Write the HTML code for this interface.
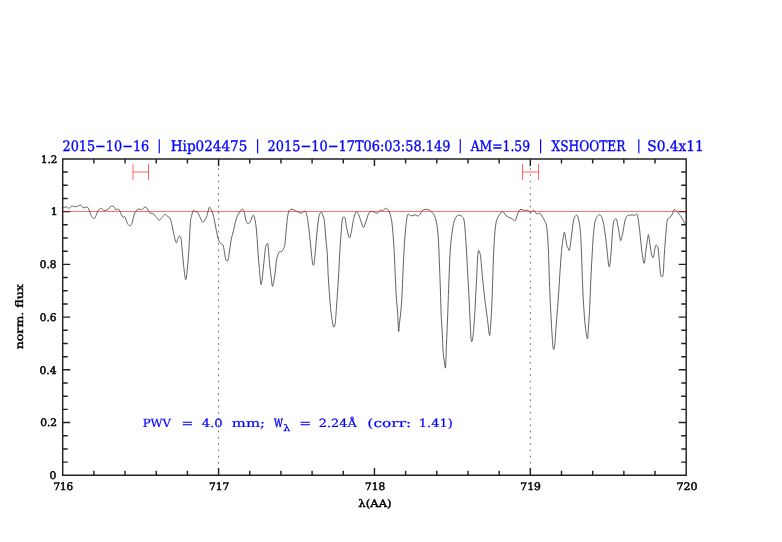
<!DOCTYPE html><html><head><meta charset="utf-8"><title>plot</title><style>html,body{margin:0;padding:0;background:#fff;}svg{display:block;will-change:transform;text-rendering:geometricPrecision;}</style></head><body>
<svg width="782" height="542" viewBox="0 0 782 542">
<rect width="782" height="542" fill="#fff"/>
<g opacity="0.999">
<line x1="218.57" y1="161.95" x2="218.57" y2="475.30" stroke="#6a6a6a" stroke-width="1" stroke-dasharray="1.7 4.55"/>
<line x1="530.33" y1="161.95" x2="530.33" y2="475.30" stroke="#6a6a6a" stroke-width="1" stroke-dasharray="1.7 4.55"/>
<path d="M62.90,207.80 C63.10,207.75 63.48,207.67 64.10,207.50 C64.72,207.33 65.82,206.65 66.60,206.80 C67.38,206.95 68.05,208.47 68.80,208.40 C69.55,208.33 70.35,206.77 71.10,206.40 C71.85,206.03 72.50,206.13 73.30,206.20 C74.10,206.27 75.17,206.80 75.90,206.80 C76.63,206.80 77.03,206.47 77.70,206.20 C78.37,205.93 79.28,205.28 79.90,205.20 C80.52,205.12 80.85,205.25 81.40,205.70 C81.95,206.15 82.58,207.62 83.20,207.90 C83.82,208.18 84.35,207.48 85.10,207.40 C85.85,207.32 86.97,206.77 87.70,207.40 C88.43,208.03 88.83,209.70 89.50,211.20 C90.17,212.70 90.90,215.18 91.70,216.40 C92.50,217.62 93.57,218.68 94.30,218.50 C95.03,218.32 95.43,216.63 96.10,215.30 C96.77,213.97 97.50,211.67 98.30,210.50 C99.10,209.33 99.92,208.30 100.90,208.30 C101.88,208.30 102.97,210.35 104.20,210.50 C105.43,210.65 107.25,209.88 108.30,209.20 C109.35,208.52 109.70,206.90 110.50,206.40 C111.30,205.90 112.42,206.02 113.10,206.20 C113.78,206.38 114.10,206.85 114.60,207.50 C115.10,208.15 115.55,209.87 116.10,210.10 C116.65,210.33 117.30,208.77 117.90,208.90 C118.50,209.03 118.90,209.53 119.70,210.90 C120.50,212.27 121.83,216.12 122.70,217.10 C123.57,218.08 124.17,215.87 124.90,216.80 C125.63,217.73 126.30,221.20 127.10,222.70 C127.90,224.20 128.90,225.68 129.70,225.80 C130.50,225.92 131.22,225.10 131.90,223.40 C132.58,221.70 133.12,217.68 133.80,215.60 C134.48,213.52 135.15,212.02 136.00,210.90 C136.85,209.78 137.98,209.10 138.90,208.90 C139.82,208.70 140.52,209.98 141.50,209.70 C142.48,209.42 143.93,207.50 144.80,207.20 C145.67,206.90 145.97,207.05 146.70,207.90 C147.43,208.75 148.47,211.40 149.20,212.30 C149.93,213.20 150.42,213.08 151.10,213.30 C151.78,213.52 152.52,213.05 153.30,213.60 C154.08,214.15 154.83,215.50 155.80,216.60 C156.77,217.70 158.07,220.07 159.10,220.20 C160.13,220.33 161.02,218.38 162.00,217.40 C162.98,216.42 164.05,214.45 165.00,214.30 C165.95,214.15 166.83,215.78 167.70,216.50 C168.57,217.22 169.47,217.07 170.20,218.60 C170.93,220.13 171.48,223.05 172.10,225.70 C172.72,228.35 173.23,231.67 173.90,234.50 C174.57,237.33 175.48,241.83 176.10,242.70 C176.72,243.57 177.12,240.77 177.60,239.70 C178.08,238.63 178.47,236.62 179.00,236.30 C179.53,235.98 180.30,235.88 180.80,237.80 C181.30,239.72 181.55,243.42 182.00,247.80 C182.45,252.18 182.88,258.80 183.50,264.10 C184.12,269.40 185.03,279.12 185.70,279.60 C186.37,280.08 186.97,272.05 187.50,267.00 C188.03,261.95 188.42,256.68 188.90,249.30 C189.38,241.92 189.95,228.23 190.40,222.70 C190.85,217.17 191.15,218.12 191.60,216.10 C192.05,214.08 192.48,211.35 193.10,210.60 C193.72,209.85 194.52,211.32 195.30,211.60 C196.08,211.88 196.98,211.30 197.80,212.30 C198.62,213.30 199.42,215.97 200.20,217.60 C200.98,219.23 201.75,221.67 202.50,222.10 C203.25,222.53 203.97,221.27 204.70,220.20 C205.43,219.13 206.15,217.82 206.90,215.70 C207.65,213.58 208.50,208.53 209.20,207.50 C209.90,206.47 210.45,208.35 211.10,209.50 C211.75,210.65 212.45,212.08 213.10,214.40 C213.75,216.72 214.35,220.17 215.00,223.40 C215.65,226.63 216.35,230.88 217.00,233.80 C217.65,236.72 218.27,239.30 218.90,240.90 C219.53,242.50 220.08,242.62 220.80,243.40 C221.52,244.18 222.55,243.87 223.20,245.60 C223.85,247.33 224.23,251.37 224.70,253.80 C225.17,256.23 225.47,259.13 226.00,260.20 C226.53,261.27 227.37,261.38 227.90,260.20 C228.43,259.02 228.65,256.53 229.20,253.10 C229.75,249.67 230.43,243.58 231.20,239.60 C231.97,235.62 232.95,232.65 233.80,229.20 C234.65,225.75 235.45,221.58 236.30,218.90 C237.15,216.22 237.92,214.72 238.90,213.10 C239.88,211.48 241.33,209.45 242.20,209.20 C243.07,208.95 243.48,209.82 244.10,211.60 C244.72,213.38 245.30,217.90 245.90,219.90 C246.50,221.90 247.00,223.28 247.70,223.60 C248.40,223.92 249.17,223.18 250.10,221.80 C251.03,220.42 252.37,215.00 253.30,215.30 C254.23,215.60 255.05,219.55 255.70,223.60 C256.35,227.65 256.80,234.53 257.20,239.60 C257.60,244.67 257.75,249.22 258.10,254.00 C258.45,258.78 258.85,263.32 259.30,268.30 C259.75,273.28 260.35,281.90 260.80,283.90 C261.25,285.90 261.60,282.70 262.00,280.30 C262.40,277.90 262.80,273.30 263.20,269.50 C263.60,265.70 264.00,261.18 264.40,257.50 C264.80,253.82 265.05,249.75 265.60,247.40 C266.15,245.05 267.20,242.70 267.70,243.40 C268.20,244.10 268.25,247.85 268.60,251.60 C268.95,255.35 269.35,261.52 269.80,265.90 C270.25,270.28 270.87,274.47 271.30,277.90 C271.73,281.33 271.95,286.10 272.40,286.50 C272.85,286.90 273.50,282.93 274.00,280.30 C274.50,277.67 274.97,274.20 275.40,270.70 C275.83,267.20 276.05,262.28 276.60,259.30 C277.15,256.32 278.15,254.13 278.70,252.80 C279.25,251.47 279.40,251.50 279.90,251.30 C280.40,251.10 281.10,252.05 281.70,251.60 C282.30,251.15 283.00,249.60 283.50,248.60 C284.00,247.60 284.37,247.37 284.70,245.60 C285.03,243.83 285.20,241.10 285.50,238.00 C285.80,234.90 286.15,230.53 286.50,227.00 C286.85,223.47 287.20,219.47 287.60,216.80 C288.00,214.13 288.37,212.25 288.90,211.00 C289.43,209.75 290.05,209.52 290.80,209.30 C291.55,209.08 292.53,209.42 293.40,209.70 C294.27,209.98 295.15,210.57 296.00,211.00 C296.85,211.43 297.65,211.93 298.50,212.30 C299.35,212.67 300.33,213.20 301.10,213.20 C301.87,213.20 302.45,212.67 303.10,212.30 C303.75,211.93 304.40,210.58 305.00,211.00 C305.60,211.42 306.17,212.77 306.70,214.80 C307.23,216.83 307.68,219.43 308.20,223.20 C308.72,226.97 309.25,232.23 309.80,237.40 C310.35,242.57 311.02,249.78 311.50,254.20 C311.98,258.62 312.28,262.28 312.70,263.90 C313.12,265.52 313.57,265.95 314.00,263.90 C314.43,261.85 314.87,256.23 315.30,251.60 C315.73,246.97 316.10,241.27 316.60,236.10 C317.10,230.93 317.80,224.25 318.30,220.60 C318.80,216.95 319.08,215.58 319.60,214.20 C320.12,212.82 320.82,211.98 321.40,212.30 C321.98,212.62 322.60,214.60 323.10,216.10 C323.60,217.60 323.98,217.97 324.40,221.30 C324.82,224.63 325.12,230.62 325.60,236.10 C326.08,241.58 326.88,247.92 327.30,254.20 C327.72,260.48 327.73,267.07 328.10,273.80 C328.47,280.53 329.03,288.37 329.50,294.60 C329.97,300.83 330.27,305.93 330.90,311.20 C331.53,316.47 332.60,324.12 333.30,326.20 C334.00,328.28 334.57,326.88 335.10,323.70 C335.63,320.52 336.05,313.10 336.50,307.10 C336.95,301.10 337.42,293.70 337.80,287.70 C338.18,281.70 338.47,277.12 338.80,271.10 C339.13,265.08 339.42,257.87 339.80,251.60 C340.18,245.33 340.68,238.87 341.10,233.50 C341.52,228.13 341.83,222.15 342.30,219.40 C342.77,216.65 343.42,217.12 343.90,217.00 C344.38,216.88 344.73,216.92 345.20,218.70 C345.67,220.48 346.02,224.53 346.70,227.70 C347.38,230.87 348.52,237.05 349.30,237.70 C350.08,238.35 350.70,234.65 351.40,231.60 C352.10,228.55 352.72,222.68 353.50,219.40 C354.28,216.12 355.23,212.72 356.10,211.90 C356.97,211.08 357.90,212.93 358.70,214.50 C359.50,216.07 360.10,219.15 360.90,221.30 C361.70,223.45 362.68,227.30 363.50,227.40 C364.32,227.50 364.98,224.10 365.80,221.90 C366.62,219.70 367.53,215.95 368.40,214.20 C369.27,212.45 370.10,211.78 371.00,211.40 C371.90,211.02 372.73,211.60 373.80,211.90 C374.87,212.20 376.37,213.47 377.40,213.20 C378.43,212.93 379.13,210.73 380.00,210.30 C380.87,209.87 381.63,210.92 382.60,210.60 C383.57,210.28 384.95,208.62 385.80,208.40 C386.65,208.18 387.05,208.55 387.70,209.30 C388.35,210.05 389.05,211.02 389.70,212.90 C390.35,214.78 391.07,217.37 391.60,220.60 C392.13,223.83 392.47,227.13 392.90,232.30 C393.33,237.47 393.78,243.85 394.20,251.60 C394.62,259.35 395.05,271.27 395.40,278.80 C395.75,286.33 395.92,291.03 396.30,296.80 C396.68,302.57 397.32,307.63 397.70,313.40 C398.08,319.17 398.30,329.78 398.60,331.40 C398.90,333.02 399.12,326.55 399.50,323.10 C399.88,319.65 400.50,315.08 400.90,310.70 C401.30,306.32 401.60,302.12 401.90,296.80 C402.20,291.48 402.33,286.77 402.70,278.80 C403.07,270.83 403.65,256.97 404.10,249.00 C404.55,241.03 404.97,235.93 405.40,231.00 C405.83,226.07 406.27,222.20 406.70,219.40 C407.13,216.60 407.40,214.82 408.00,214.20 C408.60,213.58 409.48,215.48 410.30,215.70 C411.12,215.92 412.08,215.65 412.90,215.50 C413.72,215.35 414.38,214.70 415.20,214.80 C416.02,214.90 417.00,216.15 417.80,216.10 C418.60,216.05 419.27,215.42 420.00,214.50 C420.73,213.58 421.33,211.45 422.20,210.60 C423.07,209.75 424.17,209.55 425.20,209.40 C426.23,209.25 427.40,209.33 428.40,209.70 C429.40,210.07 430.30,210.80 431.20,211.60 C432.10,212.40 432.98,213.00 433.80,214.50 C434.62,216.00 435.45,217.85 436.10,220.60 C436.75,223.35 437.27,226.90 437.70,231.00 C438.13,235.10 438.38,239.03 438.70,245.20 C439.02,251.37 439.32,260.53 439.60,268.00 C439.88,275.47 440.13,282.03 440.40,290.00 C440.67,297.97 440.87,308.27 441.20,315.80 C441.53,323.33 442.10,329.43 442.40,335.20 C442.70,340.97 442.70,346.18 443.00,350.40 C443.30,354.62 443.80,357.55 444.20,360.50 C444.60,363.45 445.10,368.43 445.40,368.10 C445.70,367.77 445.83,362.30 446.00,358.50 C446.17,354.70 446.23,349.68 446.40,345.30 C446.57,340.92 446.80,336.75 447.00,332.20 C447.20,327.65 447.37,324.12 447.60,318.00 C447.83,311.88 448.10,303.83 448.40,295.50 C448.70,287.17 449.08,275.75 449.40,268.00 C449.72,260.25 449.82,255.17 450.30,249.00 C450.78,242.83 451.65,235.62 452.30,231.00 C452.95,226.38 453.45,223.78 454.20,221.30 C454.95,218.82 455.92,217.12 456.80,216.10 C457.68,215.08 458.62,215.13 459.50,215.20 C460.38,215.27 461.35,215.70 462.10,216.50 C462.85,217.30 463.50,217.80 464.00,220.00 C464.50,222.20 464.77,225.93 465.10,229.70 C465.43,233.47 465.70,237.87 466.00,242.60 C466.30,247.33 466.60,252.58 466.90,258.10 C467.20,263.62 467.43,268.85 467.80,275.70 C468.17,282.55 468.70,291.37 469.10,299.20 C469.50,307.03 469.83,315.77 470.20,322.70 C470.57,329.63 470.85,338.43 471.30,340.80 C471.75,343.17 472.38,340.43 472.90,336.90 C473.42,333.37 473.93,326.40 474.40,319.60 C474.87,312.80 475.28,303.95 475.70,296.10 C476.12,288.25 476.58,278.83 476.90,272.50 C477.22,266.17 477.33,261.75 477.60,258.10 C477.87,254.45 478.13,251.47 478.50,250.60 C478.87,249.73 479.42,251.65 479.80,252.90 C480.18,254.15 480.38,254.30 480.80,258.10 C481.22,261.90 481.63,268.85 482.30,275.70 C482.97,282.55 483.93,291.88 484.80,299.20 C485.67,306.52 486.72,313.58 487.50,319.60 C488.28,325.62 488.98,334.25 489.50,335.30 C490.02,336.35 490.23,330.60 490.60,325.90 C490.97,321.20 491.37,314.17 491.70,307.10 C492.03,300.03 492.33,291.18 492.60,283.50 C492.87,275.82 493.00,268.47 493.30,261.00 C493.60,253.53 494.02,244.57 494.40,238.70 C494.78,232.83 495.18,229.02 495.60,225.80 C496.02,222.58 496.25,221.23 496.90,219.40 C497.55,217.57 498.63,216.10 499.50,214.80 C500.37,213.50 501.35,211.92 502.10,211.60 C502.85,211.28 503.25,212.15 504.00,212.90 C504.75,213.65 505.52,215.23 506.60,216.10 C507.68,216.97 509.50,217.60 510.50,218.10 C511.50,218.60 511.82,218.68 512.60,219.10 C513.38,219.52 514.45,221.20 515.20,220.60 C515.95,220.00 516.47,217.10 517.10,215.50 C517.73,213.90 518.35,212.03 519.00,211.00 C519.65,209.97 520.25,209.42 521.00,209.30 C521.75,209.18 522.53,210.17 523.50,210.30 C524.47,210.43 525.93,209.98 526.80,210.10 C527.67,210.22 528.10,210.63 528.70,211.00 C529.30,211.37 529.82,212.30 530.40,212.30 C530.98,212.30 531.62,211.33 532.20,211.00 C532.78,210.67 533.30,209.98 533.90,210.30 C534.50,210.62 535.27,212.30 535.80,212.90 C536.33,213.50 536.45,213.85 537.10,213.90 C537.75,213.95 538.95,212.93 539.70,213.20 C540.45,213.47 540.85,214.37 541.60,215.50 C542.35,216.63 543.45,218.60 544.20,220.00 C544.95,221.40 545.57,221.65 546.10,223.90 C546.63,226.15 547.02,229.15 547.40,233.50 C547.78,237.85 548.10,243.08 548.40,250.00 C548.70,256.92 548.90,266.62 549.20,275.00 C549.50,283.38 549.85,292.47 550.20,300.30 C550.55,308.13 550.95,315.72 551.30,322.00 C551.65,328.28 551.97,333.50 552.30,338.00 C552.63,342.50 552.90,347.78 553.30,349.00 C553.70,350.22 554.22,349.30 554.70,345.30 C555.18,341.30 555.63,332.37 556.20,325.00 C556.77,317.63 557.48,309.70 558.10,301.10 C558.72,292.50 559.38,281.08 559.90,273.40 C560.42,265.72 560.80,259.92 561.20,255.00 C561.60,250.08 561.92,247.05 562.30,243.90 C562.68,240.75 563.13,238.03 563.50,236.10 C563.87,234.17 564.13,231.87 564.50,232.30 C564.87,232.73 565.32,236.55 565.70,238.70 C566.08,240.85 566.38,243.57 566.80,245.20 C567.22,246.83 567.78,247.65 568.20,248.50 C568.62,249.35 568.92,251.07 569.30,250.30 C569.68,249.53 570.03,247.12 570.50,243.90 C570.97,240.68 571.55,235.08 572.10,231.00 C572.65,226.92 573.08,222.03 573.80,219.40 C574.52,216.77 575.62,215.32 576.40,215.20 C577.18,215.08 577.87,216.28 578.50,218.70 C579.13,221.12 579.73,224.82 580.20,229.70 C580.67,234.58 580.93,239.63 581.30,248.00 C581.67,256.37 582.02,270.43 582.40,279.90 C582.78,289.37 583.12,297.05 583.60,304.80 C584.08,312.55 584.67,320.73 585.30,326.40 C585.93,332.07 586.90,338.25 587.40,338.80 C587.90,339.35 587.93,334.53 588.30,329.70 C588.67,324.87 589.23,316.92 589.60,309.80 C589.97,302.68 590.20,293.97 590.50,287.00 C590.80,280.03 591.12,273.50 591.40,268.00 C591.68,262.50 591.92,258.88 592.20,254.00 C592.48,249.12 592.68,243.83 593.10,238.70 C593.52,233.57 594.12,226.75 594.70,223.20 C595.28,219.65 595.78,218.80 596.60,217.40 C597.42,216.00 598.73,214.80 599.60,214.80 C600.47,214.80 601.12,215.78 601.80,217.40 C602.48,219.02 603.07,221.17 603.70,224.50 C604.33,227.83 605.00,232.67 605.60,237.40 C606.20,242.13 606.75,248.05 607.30,252.90 C607.85,257.75 608.42,265.00 608.90,266.50 C609.38,268.00 609.77,265.23 610.20,261.90 C610.63,258.57 611.08,251.87 611.50,246.50 C611.92,241.13 612.28,234.02 612.70,229.70 C613.12,225.38 613.38,222.37 614.00,220.60 C614.62,218.83 615.75,218.23 616.40,219.10 C617.05,219.97 617.38,223.18 617.90,225.80 C618.42,228.42 619.07,232.35 619.50,234.80 C619.93,237.25 620.17,239.88 620.50,240.50 C620.83,241.12 621.07,240.02 621.50,238.50 C621.93,236.98 622.57,234.15 623.10,231.40 C623.63,228.65 624.12,224.48 624.70,222.00 C625.28,219.52 625.82,217.63 626.60,216.50 C627.38,215.37 628.40,215.47 629.40,215.20 C630.40,214.93 631.68,214.87 632.60,214.90 C633.52,214.93 634.17,215.53 634.90,215.40 C635.63,215.27 636.47,213.53 637.00,214.10 C637.53,214.67 637.67,216.18 638.10,218.80 C638.53,221.42 639.08,225.35 639.60,229.80 C640.12,234.25 640.67,240.78 641.20,245.50 C641.73,250.22 642.28,255.17 642.80,258.10 C643.32,261.03 643.78,264.42 644.30,263.10 C644.82,261.78 645.37,254.18 645.90,250.20 C646.43,246.22 647.05,241.75 647.50,239.20 C647.95,236.65 648.17,233.85 648.60,234.90 C649.03,235.95 649.58,242.17 650.10,245.50 C650.62,248.83 651.15,252.93 651.70,254.90 C652.25,256.87 652.87,258.33 653.40,257.30 C653.93,256.27 654.45,250.72 654.90,248.70 C655.35,246.68 655.58,245.33 656.10,245.20 C656.62,245.07 657.48,245.48 658.00,247.90 C658.52,250.32 658.78,255.38 659.20,259.70 C659.62,264.02 660.10,270.98 660.50,273.80 C660.90,276.62 661.15,276.60 661.60,276.60 C662.05,276.60 662.75,277.42 663.20,273.80 C663.65,270.18 663.87,261.45 664.30,254.90 C664.73,248.35 665.28,240.30 665.80,234.50 C666.32,228.70 666.53,223.10 667.40,220.10 C668.27,217.10 670.13,217.63 671.00,216.50 C671.87,215.37 672.00,214.48 672.60,213.30 C673.20,212.12 673.82,209.58 674.60,209.40 C675.38,209.22 676.33,211.15 677.30,212.20 C678.27,213.25 679.48,214.47 680.40,215.70 C681.32,216.93 682.08,218.30 682.80,219.60 C683.52,220.90 684.18,222.53 684.70,223.50 C685.22,224.47 685.70,225.08 685.90,225.40" fill="none" stroke="#3a3a3a" stroke-width="0.8" stroke-linejoin="round"/>
<g stroke="#ff0000" stroke-opacity="0.6" stroke-width="1" fill="none"><line x1="133.0" y1="164" x2="133.0" y2="180"/><line x1="148.5" y1="164" x2="148.5" y2="180"/><line x1="133.0" y1="172" x2="148.5" y2="172"/></g>
<g stroke="#ff0000" stroke-opacity="0.6" stroke-width="1" fill="none"><line x1="522.5" y1="164" x2="522.5" y2="180"/><line x1="538.5" y1="164" x2="538.5" y2="180"/><line x1="522.5" y1="172" x2="538.5" y2="172"/></g>
<path d="M62.70,158.90 H686.20 V475.30 H62.70 Z M62.70,475.30 v-7.20 M62.70,158.90 v7.20 M93.88,475.30 v-4.60 M93.88,158.90 v4.60 M125.05,475.30 v-4.60 M125.05,158.90 v4.60 M156.23,475.30 v-4.60 M156.23,158.90 v4.60 M187.40,475.30 v-4.60 M187.40,158.90 v4.60 M218.57,475.30 v-7.20 M218.57,158.90 v7.20 M249.75,475.30 v-4.60 M249.75,158.90 v4.60 M280.92,475.30 v-4.60 M280.92,158.90 v4.60 M312.10,475.30 v-4.60 M312.10,158.90 v4.60 M343.27,475.30 v-4.60 M343.27,158.90 v4.60 M374.45,475.30 v-7.20 M374.45,158.90 v7.20 M405.63,475.30 v-4.60 M405.63,158.90 v4.60 M436.80,475.30 v-4.60 M436.80,158.90 v4.60 M467.98,475.30 v-4.60 M467.98,158.90 v4.60 M499.15,475.30 v-4.60 M499.15,158.90 v4.60 M530.33,475.30 v-7.20 M530.33,158.90 v7.20 M561.50,475.30 v-4.60 M561.50,158.90 v4.60 M592.67,475.30 v-4.60 M592.67,158.90 v4.60 M623.85,475.30 v-4.60 M623.85,158.90 v4.60 M655.02,475.30 v-4.60 M655.02,158.90 v4.60 M686.20,475.30 v-7.20 M686.20,158.90 v7.20 M62.70,475.30 h7.50 M686.20,475.30 h-7.50 M62.70,462.12 h5.00 M686.20,462.12 h-5.00 M62.70,448.93 h5.00 M686.20,448.93 h-5.00 M62.70,435.75 h5.00 M686.20,435.75 h-5.00 M62.70,422.57 h7.50 M686.20,422.57 h-7.50 M62.70,409.38 h5.00 M686.20,409.38 h-5.00 M62.70,396.20 h5.00 M686.20,396.20 h-5.00 M62.70,383.02 h5.00 M686.20,383.02 h-5.00 M62.70,369.83 h7.50 M686.20,369.83 h-7.50 M62.70,356.65 h5.00 M686.20,356.65 h-5.00 M62.70,343.47 h5.00 M686.20,343.47 h-5.00 M62.70,330.28 h5.00 M686.20,330.28 h-5.00 M62.70,317.10 h7.50 M686.20,317.10 h-7.50 M62.70,303.92 h5.00 M686.20,303.92 h-5.00 M62.70,290.73 h5.00 M686.20,290.73 h-5.00 M62.70,277.55 h5.00 M686.20,277.55 h-5.00 M62.70,264.37 h7.50 M686.20,264.37 h-7.50 M62.70,251.18 h5.00 M686.20,251.18 h-5.00 M62.70,238.00 h5.00 M686.20,238.00 h-5.00 M62.70,224.82 h5.00 M686.20,224.82 h-5.00 M62.70,211.63 h7.50 M686.20,211.63 h-7.50 M62.70,198.45 h5.00 M686.20,198.45 h-5.00 M62.70,185.27 h5.00 M686.20,185.27 h-5.00 M62.70,172.08 h5.00 M686.20,172.08 h-5.00 M62.70,158.90 h7.50 M686.20,158.90 h-7.50" fill="none" stroke="#222" stroke-width="1.45"/>
<text x="62.50" y="150.70" font-family='"DejaVu Serif", "Liberation Serif", serif' font-size="14.60" fill="#0000ff" stroke="#0000ff" stroke-width="0.35" textLength="86.73" lengthAdjust="spacingAndGlyphs" style="font-kerning:none">2015−10−16</text>
<text x="157.05" y="149.85" font-family='"DejaVu Serif", "Liberation Serif", serif' font-size="14.00" fill="#0000ff" stroke="#0000ff" stroke-width="0.12" textLength="4.60" lengthAdjust="spacingAndGlyphs" style="font-kerning:none">|</text>
<text x="170.73" y="150.70" font-family='"DejaVu Serif", "Liberation Serif", serif' font-size="14.60" fill="#0000ff" stroke="#0000ff" stroke-width="0.35" textLength="76.65" lengthAdjust="spacingAndGlyphs" style="font-kerning:none">Hip024475</text>
<text x="255.35" y="149.85" font-family='"DejaVu Serif", "Liberation Serif", serif' font-size="14.00" fill="#0000ff" stroke="#0000ff" stroke-width="0.12" textLength="4.60" lengthAdjust="spacingAndGlyphs" style="font-kerning:none">|</text>
<text x="267.50" y="150.70" font-family='"DejaVu Serif", "Liberation Serif", serif' font-size="14.60" fill="#0000ff" stroke="#0000ff" stroke-width="0.35" textLength="182.90" lengthAdjust="spacingAndGlyphs" style="font-kerning:none">2015−10−17T06:03:58.149</text>
<text x="457.95" y="149.85" font-family='"DejaVu Serif", "Liberation Serif", serif' font-size="14.00" fill="#0000ff" stroke="#0000ff" stroke-width="0.12" textLength="4.60" lengthAdjust="spacingAndGlyphs" style="font-kerning:none">|</text>
<text x="470.65" y="150.70" font-family='"DejaVu Serif", "Liberation Serif", serif' font-size="14.60" fill="#0000ff" stroke="#0000ff" stroke-width="0.35" textLength="59.41" lengthAdjust="spacingAndGlyphs" style="font-kerning:none">AM=1.59</text>
<text x="538.35" y="149.85" font-family='"DejaVu Serif", "Liberation Serif", serif' font-size="14.00" fill="#0000ff" stroke="#0000ff" stroke-width="0.12" textLength="4.60" lengthAdjust="spacingAndGlyphs" style="font-kerning:none">|</text>
<text x="551.60" y="150.70" font-family='"DejaVu Serif", "Liberation Serif", serif' font-size="14.60" fill="#0000ff" stroke="#0000ff" stroke-width="0.35" textLength="73.83" lengthAdjust="spacingAndGlyphs" style="font-kerning:none">XSHOOTER</text>
<text x="636.40" y="149.85" font-family='"DejaVu Serif", "Liberation Serif", serif' font-size="14.00" fill="#0000ff" stroke="#0000ff" stroke-width="0.12" textLength="4.60" lengthAdjust="spacingAndGlyphs" style="font-kerning:none">|</text>
<text x="647.32" y="150.70" font-family='"DejaVu Serif", "Liberation Serif", serif' font-size="14.60" fill="#0000ff" stroke="#0000ff" stroke-width="0.35" textLength="56.45" lengthAdjust="spacingAndGlyphs" style="font-kerning:none">S0.4x11</text>
<text x="49.54" y="479.10" font-family='"DejaVu Serif", "Liberation Serif", serif' font-size="10.40" fill="#000" stroke="#000" stroke-width="0.50" textLength="6.82" lengthAdjust="spacingAndGlyphs" style="font-kerning:none">0</text>
<text x="40.15" y="426.37" font-family='"DejaVu Serif", "Liberation Serif", serif' font-size="10.40" fill="#000" stroke="#000" stroke-width="0.50" textLength="16.95" lengthAdjust="spacingAndGlyphs" style="font-kerning:none">0.2</text>
<text x="39.54" y="373.63" font-family='"DejaVu Serif", "Liberation Serif", serif' font-size="10.40" fill="#000" stroke="#000" stroke-width="0.50" textLength="17.05" lengthAdjust="spacingAndGlyphs" style="font-kerning:none">0.4</text>
<text x="39.86" y="320.90" font-family='"DejaVu Serif", "Liberation Serif", serif' font-size="10.40" fill="#000" stroke="#000" stroke-width="0.50" textLength="16.65" lengthAdjust="spacingAndGlyphs" style="font-kerning:none">0.6</text>
<text x="39.86" y="268.17" font-family='"DejaVu Serif", "Liberation Serif", serif' font-size="10.40" fill="#000" stroke="#000" stroke-width="0.50" textLength="16.70" lengthAdjust="spacingAndGlyphs" style="font-kerning:none">0.8</text>
<text x="50.80" y="215.43" font-family='"DejaVu Serif", "Liberation Serif", serif' font-size="10.40" fill="#000" stroke="#000" stroke-width="0.50" textLength="7.01" lengthAdjust="spacingAndGlyphs" style="font-kerning:none">1</text>
<text x="40.89" y="162.70" font-family='"DejaVu Serif", "Liberation Serif", serif' font-size="10.40" fill="#000" stroke="#000" stroke-width="0.50" textLength="16.37" lengthAdjust="spacingAndGlyphs" style="font-kerning:none">1.2</text>
<text x="53.38" y="489.80" font-family='"DejaVu Serif", "Liberation Serif", serif' font-size="10.40" fill="#000" stroke="#000" stroke-width="0.50" textLength="19.83" lengthAdjust="spacingAndGlyphs" style="font-kerning:none">716</text>
<text x="208.95" y="489.80" font-family='"DejaVu Serif", "Liberation Serif", serif' font-size="10.40" fill="#000" stroke="#000" stroke-width="0.50" textLength="20.37" lengthAdjust="spacingAndGlyphs" style="font-kerning:none">717</text>
<text x="365.06" y="489.80" font-family='"DejaVu Serif", "Liberation Serif", serif' font-size="10.40" fill="#000" stroke="#000" stroke-width="0.50" textLength="20.20" lengthAdjust="spacingAndGlyphs" style="font-kerning:none">718</text>
<text x="520.35" y="489.80" font-family='"DejaVu Serif", "Liberation Serif", serif' font-size="10.40" fill="#000" stroke="#000" stroke-width="0.50" textLength="20.53" lengthAdjust="spacingAndGlyphs" style="font-kerning:none">719</text>
<text x="676.52" y="489.80" font-family='"DejaVu Serif", "Liberation Serif", serif' font-size="10.40" fill="#000" stroke="#000" stroke-width="0.50" textLength="21.06" lengthAdjust="spacingAndGlyphs" style="font-kerning:none">720</text>
<text x="0" y="0" transform="translate(23.3,349.3) rotate(-90)" font-family='"DejaVu Serif", "Liberation Serif", serif' font-size="10.4" fill="#000" stroke="#000" stroke-width="0.4" textLength="65.2" lengthAdjust="spacingAndGlyphs">norm. flux</text>
<text x="358.35" y="507.00" font-family='"DejaVu Serif", "Liberation Serif", serif' font-size="10.40" fill="#000" stroke="#000" stroke-width="0.45" textLength="33.25" lengthAdjust="spacingAndGlyphs" style="font-kerning:none">λ(AA)</text>
<text x="142.65" y="427.30" font-family='"DejaVu Serif", "Liberation Serif", serif' font-size="11.30" fill="#0000ff" stroke="#0000ff" stroke-width="0.20" textLength="28.37" lengthAdjust="spacingAndGlyphs" style="font-kerning:none">PWV</text>
<text x="181.41" y="427.30" font-family='"DejaVu Serif", "Liberation Serif", serif' font-size="11.30" fill="#0000ff" stroke="#0000ff" stroke-width="0.20" textLength="11.78" lengthAdjust="spacingAndGlyphs" style="font-kerning:none">=</text>
<text x="201.70" y="427.30" font-family='"DejaVu Serif", "Liberation Serif", serif' font-size="11.30" fill="#0000ff" stroke="#0000ff" stroke-width="0.20" textLength="20.88" lengthAdjust="spacingAndGlyphs" style="font-kerning:none">4.0</text>
<text x="231.86" y="427.30" font-family='"DejaVu Serif", "Liberation Serif", serif' font-size="11.30" fill="#0000ff" stroke="#0000ff" stroke-width="0.20" textLength="33.24" lengthAdjust="spacingAndGlyphs" style="font-kerning:none">mm;</text>
<text x="273.88" y="427.30" font-family='"DejaVu Serif", "Liberation Serif", serif' font-size="11.30" fill="#0000ff" stroke="#0000ff" stroke-width="0.45" textLength="8.82" lengthAdjust="spacingAndGlyphs" style="font-kerning:none">W</text>
<text x="299.18" y="427.30" font-family='"DejaVu Serif", "Liberation Serif", serif' font-size="11.30" fill="#0000ff" stroke="#0000ff" stroke-width="0.20" textLength="12.05" lengthAdjust="spacingAndGlyphs" style="font-kerning:none">=</text>
<text x="318.83" y="427.30" font-family='"DejaVu Serif", "Liberation Serif", serif' font-size="11.30" fill="#0000ff" stroke="#0000ff" stroke-width="0.20" textLength="37.95" lengthAdjust="spacingAndGlyphs" style="font-kerning:none">2.24Å</text>
<text x="367.38" y="427.30" font-family='"DejaVu Serif", "Liberation Serif", serif' font-size="11.30" fill="#0000ff" stroke="#0000ff" stroke-width="0.20" textLength="43.91" lengthAdjust="spacingAndGlyphs" style="font-kerning:none">(corr:</text>
<text x="418.81" y="427.30" font-family='"DejaVu Serif", "Liberation Serif", serif' font-size="11.30" fill="#0000ff" stroke="#0000ff" stroke-width="0.20" textLength="34.12" lengthAdjust="spacingAndGlyphs" style="font-kerning:none">1.41)</text>
<text x="283.30" y="431.00" font-family='"DejaVu Serif", "Liberation Serif", serif' font-size="9.00" fill="#0000ff" stroke="#0000ff" stroke-width="0.30" textLength="6.96" lengthAdjust="spacingAndGlyphs" style="font-kerning:none">λ</text>
</g>
<line x1="62.70" y1="211.45" x2="686.20" y2="211.45" stroke="#ff0000" stroke-opacity="0.55" stroke-width="1.1"/>
</svg></body></html>
